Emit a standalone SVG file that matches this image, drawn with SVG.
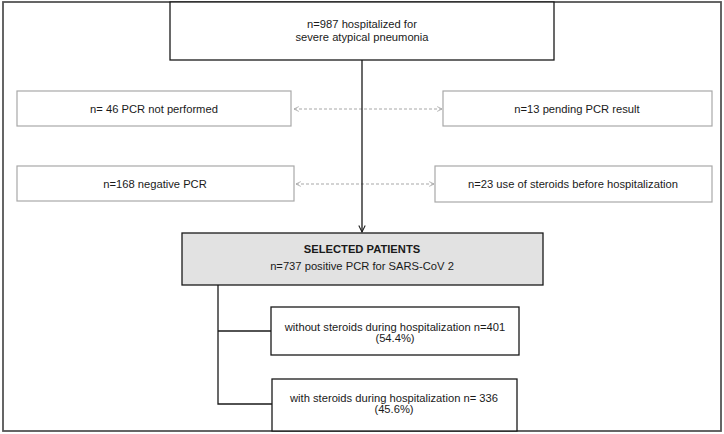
<svg xmlns="http://www.w3.org/2000/svg" width="724" height="434" viewBox="0 0 724 434">
<defs>
<style>
text{font-family:"Liberation Sans",Arial,sans-serif;font-size:11.2px;fill:#1a1a1a;text-anchor:middle}
.b{font-weight:bold}
.main{fill:#fff;stroke:#1a1a1a;stroke-width:1.3}
.sel{fill:#e2e2e2;stroke:#1a1a1a;stroke-width:1.3}
.side{fill:#fff;stroke:#a8a8a8;stroke-width:1.2}
.dash{fill:none;stroke:#a8a8a8;stroke-width:1.2;stroke-dasharray:3 2}
.line{fill:none;stroke:#1a1a1a;stroke-width:1.3}
</style>
<marker id="ga" viewBox="0 0 10 10" refX="9" refY="5" markerWidth="6" markerHeight="6" orient="auto-start-reverse" markerUnits="userSpaceOnUse">
<path d="M1,1 L9,5 L1,9" fill="none" stroke="#a8a8a8" stroke-width="1.4"/>
</marker>
<marker id="ba" viewBox="0 0 10 10" refX="9" refY="5" markerWidth="8" markerHeight="8" orient="auto" markerUnits="userSpaceOnUse">
<path d="M1,1 L9,5 L1,9" fill="none" stroke="#1a1a1a" stroke-width="1.3"/>
</marker>
</defs>
<rect x="0" y="0" width="724" height="434" fill="#fff"/>
<rect x="3" y="2" width="718" height="429" fill="none" stroke="#555" stroke-width="1.8"/>

<g id="top">
<rect class="main" x="170" y="2" width="384" height="58"/>
<text x="362" y="28">n=987 hospitalized for</text>
<text x="362" y="41">severe atypical pneumonia</text>
</g>
<g id="pcr-not-performed">
<rect class="side" x="17" y="91" width="274" height="35"/>
<text x="154" y="113">n= 46 PCR not performed</text>
</g>
<g id="pending-pcr">
<rect class="side" x="443" y="91" width="269" height="35"/>
<text x="577" y="113">n=13 pending PCR result</text>
</g>
<g id="negative-pcr">
<rect class="side" x="17" y="166" width="277" height="35"/>
<text x="155" y="188">n=168 negative PCR</text>
</g>
<g id="steroids-before">
<rect class="side" x="435" y="166" width="277" height="36"/>
<text x="573" y="188">n=23 use of steroids before hospitalization</text>
</g>
<g id="selected">
<rect class="sel" x="182" y="233" width="361" height="52"/>
<text class="b" x="362" y="253">SELECTED PATIENTS</text>
<text x="362" y="270">n=737 positive PCR for SARS-CoV 2</text>
</g>
<g id="without-steroids">
<rect class="main" x="271" y="307" width="248" height="48"/>
<text x="395" y="331">without steroids during hospitalization  n=401</text>
<text x="395" y="342">(54.4%)</text>
</g>
<g id="with-steroids">
<rect class="main" x="272" y="379" width="245" height="52"/>
<text x="394" y="402">with steroids during hospitalization  n= 336</text>
<text x="394" y="413">(45.6%)</text>
</g>

<g id="connectors">
<path class="dash" d="M294,109 H442" marker-start="url(#ga)" marker-end="url(#ga)"/>
<path class="dash" d="M296,184 H434" marker-start="url(#ga)" marker-end="url(#ga)"/>
<path class="line" d="M362,60 V232" marker-end="url(#ba)"/>
<path class="line" d="M218,285 V404 H272"/>
<path class="line" d="M218,331 H271"/>
</g>
</svg>
